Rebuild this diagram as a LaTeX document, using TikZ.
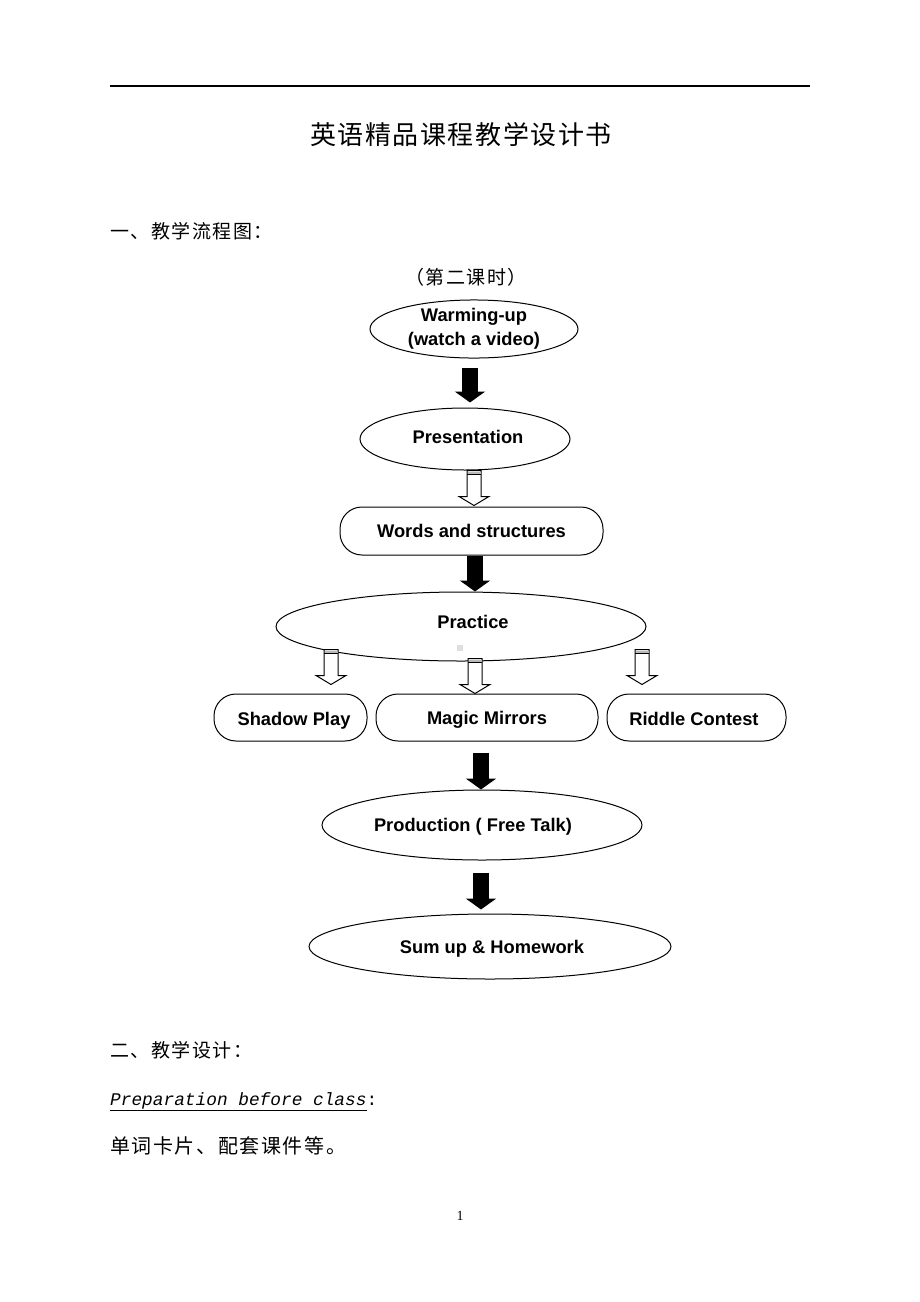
\documentclass[tikz,border=0pt]{standalone}
\usepackage{fontspec}
\setmainfont{Liberation Serif}
\newfontfamily\cjkfont[LetterSpace=8]{Noto Sans CJK SC}
\newfontfamily\cjktitle[LetterSpace=6]{Noto Sans CJK SC}
\newfontfamily\flowfont{Liberation Sans}
\newfontfamily\codefont{Liberation Mono}
\usetikzlibrary{shapes.geometric,arrows.meta,calc}
\newcommand{\hollowarrow}[2]{%
  \draw[hol] let \p1=(#1), \p2=(#2) in
    (\x1-7pt,\y1) -- (\x1+7pt,\y1) -- (\x1+7pt,\y2+9pt) -- (\x1+15pt,\y2+9pt)
    -- (\x1,\y2) -- (\x1-15pt,\y2+9pt) -- (\x1-7pt,\y2+9pt) -- cycle;
  \fill[gray!55] let \p1=(#1) in (\x1-6.5pt,\y1-1.2pt) rectangle (\x1+6.5pt,\y1-3.6pt);
  \draw[line width=1pt] let \p1=(#1) in (\x1-7pt,\y1-4pt) -- (\x1+7pt,\y1-4pt);}
\begin{document}
\begin{tikzpicture}[x=1pt,y=-1pt,
  flowtext/.style={font=\flowfont\bfseries\fontsize{18.3}{24}\selectfont},
  oval/.style={ellipse,draw,line width=1pt,inner sep=0pt,align=center,flowtext},
  rbox/.style={rectangle,rounded corners=22pt,draw,line width=1pt,inner sep=0pt,flowtext},
  lbl/.style={inner sep=0pt,flowtext},
  blk/.style={line width=16pt,-{Triangle[width=30pt,length=11pt]}},
  hol/.style={draw,line width=1pt,fill=white,line join=miter},
  cjk/.style={inner sep=0pt,font=\cjkfont\fontsize{19}{19}\selectfont}]
\useasboundingbox[fill=white] (0,0) rectangle (920,1302);

% header rule and title
\coordinate (ruleL) at (110,86);
\coordinate (ruleR) at (810,86);
\draw[line width=1.3pt] (ruleL) -- (ruleR);
\node[inner sep=0pt,font=\cjktitle\fontsize{26}{26}\selectfont] (title) at (461,135) {英语精品课程教学设计书};
\node[cjk,anchor=west] (sec1) at (110,231) {一、教学流程图：};
\node[cjk] (lesson) at (466,277) {（第二课时）};

% flowchart shapes
\node[oval,minimum width=208pt,minimum height=58pt] (warm) at (474,329) {Warming-up\\(watch a video)};
\node[oval,minimum width=210pt,minimum height=62pt] (pres) at (465,439) {};
\node[lbl] (prestxt) at (468,437) {Presentation};
\node[rbox,minimum width=263pt,minimum height=48pt] (words) at (471.5,531) {Words and structures};
\node[oval,minimum width=370pt,minimum height=69pt] (prac) at (461,626.5) {};
\node[lbl] (practxt) at (473,622) {Practice};
\fill[gray!25] (457,645) rectangle (463,651);
\node[rbox,minimum width=153pt,minimum height=47pt] (shadow) at (290.5,717.5) {};
\node[lbl] (shadowtxt) at (294,721) {Shadow Play};
\node[rbox,minimum width=222pt,minimum height=47pt] (magic) at (487,717.5) {};
\node[lbl] (magictxt) at (487,720) {Magic Mirrors};
\node[rbox,minimum width=179pt,minimum height=47pt] (riddle) at (696.5,717.5) {};
\node[lbl] (riddletxt) at (694,719) {Riddle Contest};
\node[oval,minimum width=320pt,minimum height=70pt] (prod) at (482,825) {};
\node[lbl] (prodtxt) at (473,826.5) {Production ( Free Talk)};
\node[oval,minimum width=362pt,minimum height=65pt] (sum) at (490,946.5) {};
\node[lbl] (sumtxt) at (492,948.5) {Sum up \& Homework};

% solid arrows
\draw[blk] ([xshift=-4pt,yshift=-9pt]warm.south) -- ([xshift=5pt,yshift=5pt]pres.north);
\draw[blk] ([xshift=3.5pt]words.south) -- ([xshift=14pt]prac.north);
\draw[blk] ([xshift=-6pt,yshift=-11pt]magic.south) -- ([xshift=-1pt]prod.north);
\draw[blk] ([xshift=-1pt,yshift=-12pt]prod.south) -- ([xshift=-9pt,yshift=4pt]sum.north);

% hollow arrows
\coordinate (h1a) at ([xshift=9pt]pres.south);
\coordinate (h1b) at ([xshift=2.5pt,yshift=1pt]words.north);
\hollowarrow{h1a}{h1b}
\coordinate (hla) at ([xshift=-130pt,yshift=12pt]prac.south);
\coordinate (hlb) at ([xshift=40.5pt,yshift=9pt]shadow.north);
\hollowarrow{hla}{hlb}
\coordinate (hma) at ([xshift=14pt,yshift=3pt]prac.south);
\coordinate (hmb) at ([xshift=-12pt]magic.north);
\hollowarrow{hma}{hmb}
\coordinate (hra) at ([xshift=181pt,yshift=12pt]prac.south);
\coordinate (hrb) at ([xshift=-54.5pt,yshift=9pt]riddle.north);
\hollowarrow{hra}{hrb}

% second section
\node[cjk,anchor=west] (sec2) at (110,1050) {二、教学设计：};
\node[inner sep=0pt,anchor=base west,font=\codefont\fontsize{17.8}{17.8}\selectfont] (prep) at (110,1105) {\underline{\itshape Preparation before class}:};
\node[cjk,anchor=west,font=\cjkfont\fontsize{20}{20}\selectfont] (mat) at (110,1146) {单词卡片、配套课件等。};
\node[inner sep=0pt,font=\fontsize{14}{14}\selectfont] (pageno) at (460,1216) {1};
\end{tikzpicture}
\end{document}
